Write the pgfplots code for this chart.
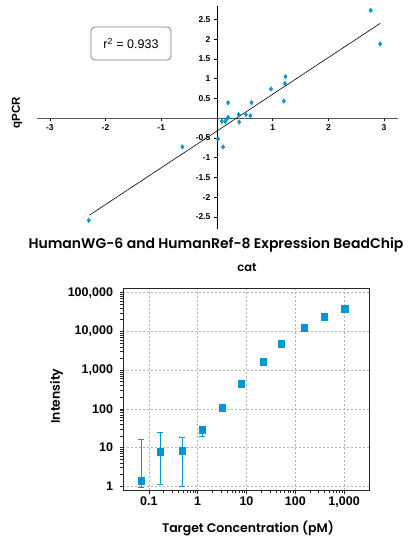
\documentclass[border=0pt]{standalone}
\usepackage{fontspec}
\setmainfont{Liberation Sans}
\newfontfamily\avfont{Poppins}[BoldFont={Poppins SemiBold}]
\usepackage{pgfplots}
\pgfplotsset{compat=1.18}
\definecolor{illublue}{RGB}{0,150,214}

% qPCR vs BeadChip log ratios
\pgfplotstableread{
x y
2.76 2.73
2.93 1.88
1.23 1.05
1.22 0.88
0.97 0.74
1.20 0.43
0.20 0.39
0.62 0.39
0.39 0.09
0.52 0.09
0.60 0.06
0.40 -0.10
0.20 0.02
0.17 -0.03
0.15 -0.09
0.09 -0.08
0.02 -0.53
0.11 -0.73
-0.62 -0.73
-2.30 -2.59
}\scatterdata

% titration series: concentration, intensity, error up, error down
\pgfplotstableread{
x y ep em
0.0695 1.40 14.9 0.47
0.170 7.7 16.7 6.62
0.48 8.3 9.8 7.31
1.24 29 2 9.8
1014 38000 4000 4000
}\errdata

\pgfplotstableread{
x y
0.0695 1.40
0.170 7.7
0.48 8.3
1.24 29
3.19 108
7.8 448
22.1 1660
51.8 4880
151 12600
394 24300
1014 38000
}\titrdata

\begin{document}
\begin{tikzpicture}
\useasboundingbox (0pt,0pt) rectangle (412pt,-538pt);

\begin{axis}[
    at={(37pt,-229pt)}, anchor=south west,
    scale only axis, width=361pt, height=223pt,
    axis lines=middle,
    xmin=-3.23, xmax=3.25, ymin=-2.81, ymax=2.84,
    xtick={-3,-2,-1,1,2,3},
    xticklabels={-3,-2,-1,1,2,3},
    ytick={-2.5,-2,-1.5,-1,-0.5,0.5,1,1.5,2,2.5},
    yticklabels={-2.5,-2,-1.5,-1,-0.5,0.5,1,1.5,2,2.5},
    ticklabel style={font=\bfseries\fontsize{8.5}{9}\selectfont},
    x axis line style={-, gray!70!black, line width=0.8pt},
    y axis line style={-, black, line width=0.8pt},
    tick style={black, thin},
    major tick length=3pt,
    tick align=outside,
    clip=false,
]
\addplot[only marks, mark=diamond*, mark size=2.3pt, color=illublue] table {\scatterdata};
\addplot[black, line width=0.6pt] coordinates {(-2.29,-2.46) (2.93,2.40)};
\end{axis}

\node[draw=gray, rounded corners=4pt, minimum width=80pt, minimum height=33pt,
      line width=0.8pt, font=\fontsize{12.5}{14}\selectfont] at (131pt,-43.5pt)
      {r\textsuperscript{2} = 0.933};
\node[rotate=90, font=\bfseries\fontsize{11.5}{13}\selectfont] at (17pt,-113pt) {qPCR};

\node[font=\avfont\bfseries\fontsize{14}{15}\selectfont] at (216pt,-245pt)
      {HumanWG-6 and HumanRef-8 Expression BeadChip};
\node[font=\avfont\bfseries\fontsize{11.5}{12}\selectfont] at (247pt,-268pt) {cat};

\begin{axis}[
    at={(123pt,-490pt)}, anchor=south west,
    scale only axis, width=246pt, height=202pt,
    xmode=log, ymode=log,
    xmin=0.0295, xmax=3236, ymin=0.794, ymax=131826,
    xtick={0.1,1,10,100,1000},
    xticklabels={0.1,1,10,100,{1,000}},
    ytick={1,10,100,1000,10000,100000},
    yticklabels={1,10,100,{1,000},{10,000},{100,000}},
    minor xtick={}, minor ytick={},
    grid=major,
    grid style={gray!60, dash pattern=on 2pt off 2pt},
    axis line style={gray!30!black, line width=0.8pt},
    tick style={gray!30!black, thin},
    major tick length=3.5pt,
    tick align=outside, tick pos=left,
    ticklabel style={font=\bfseries\fontsize{12.5}{14}\selectfont},
    yticklabel style={xshift=-3pt},
    xlabel={Target Concentration (pM)},
    ylabel={Intensity},
    label style={font=\avfont\bfseries\fontsize{12.5}{13}\selectfont},
    xlabel style={at={(axis description cs:0.508,-0.188)}, anchor=center},
    ylabel style={at={(axis description cs:-0.27,0.465)}, anchor=center},
]
% error bars drawn as plain vertical segments with caps
\addplot[illublue, line width=1pt, forget plot] coordinates {(0.0695,0.93) (0.0695,16.3)};
\addplot[illublue, line width=1pt, forget plot] coordinates {(0.170,1.08) (0.170,24.4)};
\addplot[illublue, line width=1pt, forget plot] coordinates {(0.48,0.99) (0.48,18.1)};
\addplot[illublue, line width=1pt, forget plot] coordinates {(1.24,19.2) (1.24,31)};
\addplot[illublue, line width=1pt, forget plot] coordinates {(1014,34000) (1014,42000)};
\addplot[illublue, only marks, mark=-, mark size=3pt, mark options={line width=1pt}, forget plot]
    coordinates {(0.0695,0.93) (0.0695,16.3) (0.170,1.08) (0.170,24.4) (0.48,0.99) (0.48,18.1)
                 (1.24,19.2) (1014,34000) (1014,42000)};
\addplot[only marks, mark=square*, mark size=3.3pt, color=illublue] table {\titrdata};
\end{axis}
\end{tikzpicture}
\end{document}
